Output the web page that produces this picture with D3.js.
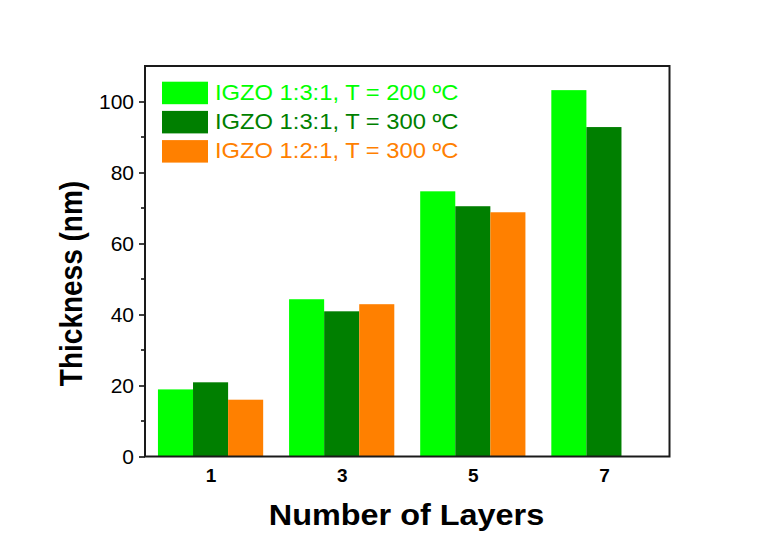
<!DOCTYPE html>
<html lang="en">
<head>
    <meta charset="utf-8">
    <title>IGZO thickness vs layers</title>
    <script type="text/javascript" src="https://cdn.jsdelivr.net/npm/d3@7"></script>
    <style type="text/css">
        body { margin: 0; background: #fff; }
        text { font-family: "Liberation Sans", Arial, sans-serif; }
    </style>
</head>
<body>
<script type="text/javascript">

    var w = 760;
    var h = 538;

    // data
    var layers = [1, 3, 5, 7];
    var seriesNames = ["IGZO 1:3:1, T = 200 ºC", "IGZO 1:3:1, T = 300 ºC", "IGZO 1:2:1, T = 300 ºC"];
    var seriesColors = ["#00ff00", "#007f00", "#ff8000"];
    var thick200 = [18.9, 44.3, 74.7, 103.2];
    var thick300 = [20.9, 40.9, 70.5, 92.8];
    var thick121 = [16, 42.9, 68.8, null];
    var yTicks = [0, 20, 40, 60, 80, 100];
    var yMinor = [10, 30, 50, 70, 90];

    var allSeries = [thick200, thick300, thick121];

    var padL = 145, padR = 669.5, padT = 66, padB = 456.5;
    var stretch = 1.08;  // the original picture is a little wider than tall

    var xScale = d3.scaleLinear().domain([0, 8]).range([padL, padR]);
    var yScale = d3.scaleLinear().domain([0, 110]).range([padB, padT]);
    var barW = xScale(0.535) - xScale(0);

    var svg = d3.select("body")
        .append("svg")
        .attr("width", w)
        .attr("height", h);

    // bars
    allSeries.forEach(function (vals, si) {
        var pts = vals.map(function (v, i) { return { x: layers[i], v: v }; })
            .filter(function (d) { return d.v !== null; });
        svg.append("g").selectAll("rect")
            .data(pts)
            .enter()
            .append("rect")
            .attr("x", function (d) { return xScale(d.x) + (si - 1.5) * barW; })
            .attr("width", barW)
            .attr("y", function (d) { return yScale(d.v); })
            .attr("height", function (d) { return yScale(0) - yScale(d.v); })
            .attr("fill", seriesColors[si]);
    });

    // y axis
    var yAxis = d3.axisLeft(yScale)
        .tickValues(yTicks)
        .tickSize(6)
        .tickPadding(5);
    var gy = svg.append("g")
        .attr("transform", "translate(" + padL + ",0)")
        .call(yAxis);
    gy.select(".domain").remove();
    gy.selectAll("text")
        .attr("font-size", "21px")
        .attr("font-family", "Liberation Sans, Arial, sans-serif")
        .attr("fill", "#000");
    gy.selectAll("line").attr("stroke", "#000").attr("stroke-width", 1.5);

    // minor ticks
    svg.append("g").selectAll("line")
        .data(yMinor)
        .enter()
        .append("line")
        .attr("x1", padL - 4)
        .attr("x2", padL)
        .attr("y1", function (d) { return yScale(d); })
        .attr("y2", function (d) { return yScale(d); })
        .attr("stroke", "#000")
        .attr("stroke-width", 1.5);

    // x tick labels
    var xAxis = d3.axisBottom(xScale)
        .tickValues(layers)
        .tickSize(0)
        .tickPadding(12);
    var gx = svg.append("g")
        .attr("transform", "translate(0," + padB + ")")
        .call(xAxis);
    gx.select(".domain").remove();
    gx.selectAll("text")
        .attr("font-size", "19px")
        .attr("font-weight", "bold")
        .attr("font-family", "Liberation Sans, Arial, sans-serif")
        .attr("fill", "#000");

    // frame
    svg.append("rect")
        .attr("x", padL)
        .attr("y", padT)
        .attr("width", padR - padL)
        .attr("height", padB - padT)
        .attr("fill", "none")
        .attr("stroke", "#1a1a1a")
        .attr("stroke-width", 2);

    // axis titles
    svg.append("text")
        .attr("transform", "translate(406.5,525) scale(" + stretch + ",1)")
        .attr("text-anchor", "middle")
        .attr("font-size", "30px")
        .attr("font-weight", "bold")
        .text("Number of Layers");

    svg.append("text")
        .attr("transform", "translate(81.5,283.5) rotate(-90) scale(1,1.15)")
        .attr("text-anchor", "middle")
        .attr("font-size", "28px")
        .attr("font-weight", "bold")
        .text("Thickness (nm)");

    // legend
    var legend = svg.append("g").selectAll("g")
        .data(seriesNames)
        .enter()
        .append("g")
        .attr("transform", function (d, i) { return "translate(162," + (81.7 + i * 29.2) + ")"; });
    legend.append("rect")
        .attr("width", 46)
        .attr("height", 22.5)
        .attr("fill", function (d, i) { return seriesColors[i]; });
    legend.append("text")
        .attr("transform", "translate(53,17.8) scale(" + stretch + ",1)")
        .attr("font-size", "22px")
        .attr("fill", function (d, i) { return seriesColors[i]; })
        .text(function (d) { return d; });

</script>
</body>
</html>
